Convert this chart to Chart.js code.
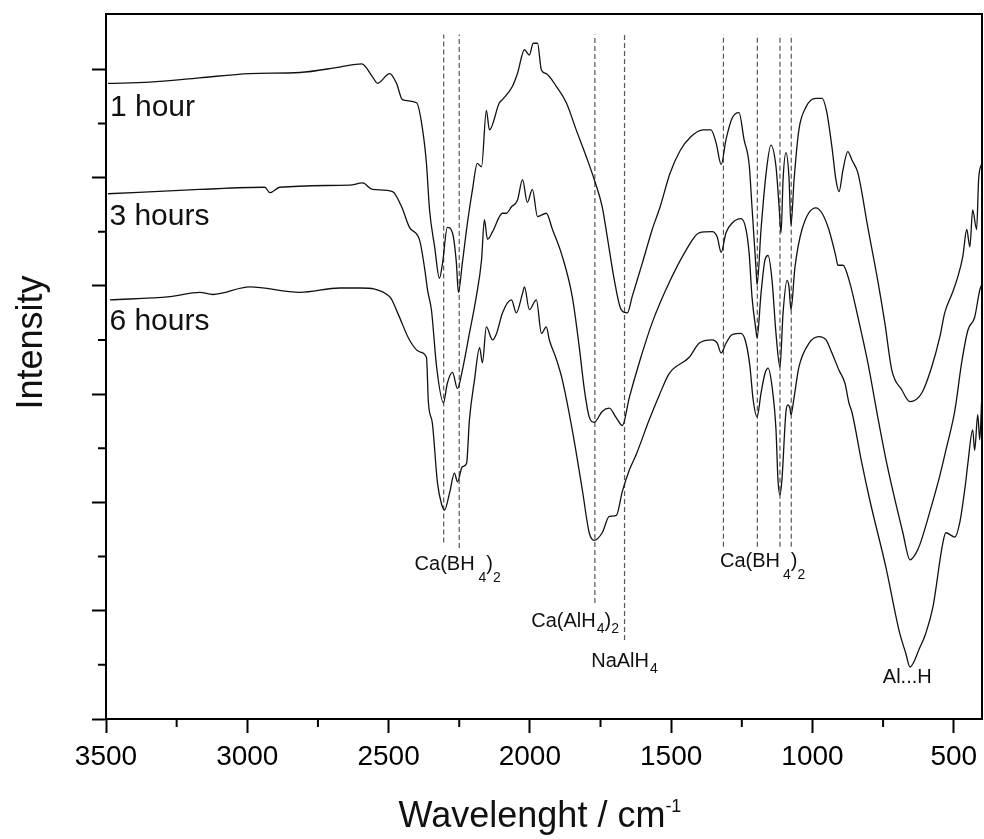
<!DOCTYPE html>
<html>
<head>
<meta charset="utf-8">
<script src="https://cdn.jsdelivr.net/npm/chart.js@4.4.1/dist/chart.umd.min.js"></script>
<style>
  html, body { margin: 0; padding: 0; background: #fff; }
</style>
</head>
<body>
<canvas id="chart" width="984" height="839"></canvas>
<script>
// IR spectra (wavenumber / cm-1, stacked intensity in a.u.)
const wn1 = [3493,3345,3168,2991,2814,2673,2595,2557,2539,2496,2472,2451,2401,2383,2366,2355,2337,2320,2309,2292,2274,2260,2253,2239,2221,2203,2186,2171,2154,2143,2108,2097,2062,2044,2019,2002,1988,1973,1959,1942,1906,1871,1836,1800,1772,1744,1726,1701,1677,1655,1638,1602,1567,1539,1504,1468,1433,1387,1359,1341,1323,1306,1284,1260,1242,1224,1214,1200,1196,1182,1164,1147,1129,1118,1111,1104,1094,1083,1076,1065,1048,1023,988,966,949,931,917,906,892,875,860,839,804,769,744,719,684,655,613,578,549,532,504,486,468,454,443,433,419,412,401];
const int1 = [5.87,5.88,5.92,5.96,5.97,6.02,6.05,5.93,5.87,5.96,5.87,5.72,5.69,5.50,5.13,4.70,4.36,4.07,4.21,4.54,4.49,4.21,3.94,4.21,4.58,4.89,5.13,5.10,5.62,5.44,5.69,5.72,5.84,5.96,6.18,6.13,6.24,6.24,5.99,5.96,5.84,5.69,5.44,5.19,4.98,4.73,4.45,4.05,3.78,3.75,3.90,4.21,4.52,4.73,5.04,5.25,5.37,5.44,5.44,5.32,5.12,5.35,5.55,5.60,5.35,5.12,4.73,4.17,4.01,4.52,5.04,5.30,5.10,4.73,4.49,4.98,5.23,5.00,4.56,4.98,5.44,5.65,5.73,5.73,5.60,5.28,4.98,4.87,5.07,5.24,5.16,5.04,4.54,4.05,3.66,3.22,3.04,2.93,3.01,3.25,3.53,3.75,3.94,4.08,4.27,4.52,4.36,4.70,4.52,4.98,5.13];

const wn3h = [3493,3168,2938,2920,2885,2638,2592,2557,2486,2454,2426,2390,2373,2362,2348,2330,2306,2292,2274,2256,2239,2214,2189,2171,2161,2150,2132,2097,2083,2065,2044,2026,2009,1991,1973,1942,1920,1885,1850,1825,1807,1790,1772,1744,1719,1694,1673,1648,1613,1567,1507,1447,1401,1355,1337,1323,1306,1284,1253,1235,1224,1214,1200,1196,1182,1168,1157,1143,1129,1115,1104,1090,1083,1076,1062,1037,988,966,942,917,910,892,868,839,804,769,737,680,655,634,620,585,549,528,496,472,450,426,408,401];
const int3h = [4.85,4.89,4.91,4.86,4.91,4.93,4.95,4.89,4.87,4.73,4.54,4.42,4.17,3.96,3.77,3.25,2.92,3.10,3.20,3.05,3.22,3.56,3.91,4.24,4.61,4.43,4.50,4.67,4.67,4.73,4.79,4.98,4.77,4.89,4.64,4.67,4.52,4.27,3.90,3.43,3.04,2.79,2.74,2.84,2.87,2.78,2.71,2.97,3.29,3.66,4.03,4.33,4.49,4.50,4.45,4.31,4.49,4.58,4.62,4.52,4.30,3.90,3.59,3.52,3.93,4.24,4.28,4.05,3.56,3.25,3.75,4.05,3.99,3.78,4.17,4.52,4.72,4.67,4.52,4.27,4.19,4.19,4.03,3.71,3.29,2.79,2.36,1.72,1.47,1.53,1.61,1.91,2.25,2.48,2.85,3.29,3.59,3.71,3.96,4.01];

const wn6h = [3486,3274,3168,3122,2991,2814,2673,2602,2496,2468,2426,2390,2366,2359,2345,2327,2313,2302,2284,2267,2256,2239,2224,2214,2196,2178,2168,2154,2132,2118,2097,2065,2048,2026,2019,2002,1977,1959,1942,1931,1906,1885,1850,1814,1790,1772,1744,1719,1694,1673,1648,1624,1578,1542,1507,1436,1401,1355,1337,1323,1306,1284,1253,1235,1221,1210,1196,1182,1168,1157,1143,1129,1122,1115,1108,1094,1087,1080,1076,1065,1048,1012,977,952,931,906,885,871,860,825,797,740,691,670,655,620,599,574,539,528,496,479,458,450,433,426,415,408,401];
const int6h = [3.87,3.90,3.94,3.92,3.99,3.94,3.98,3.98,3.90,3.75,3.50,3.39,3.34,2.92,2.73,2.18,1.99,1.93,2.09,2.27,2.19,2.33,2.36,2.76,3.13,3.43,3.29,3.62,3.50,3.56,3.75,3.87,3.75,3.93,3.99,3.78,3.87,3.56,3.62,3.50,3.32,3.13,2.67,2.11,1.72,1.65,1.72,1.87,1.88,2.10,2.30,2.44,2.76,2.99,3.19,3.34,3.47,3.50,3.47,3.38,3.47,3.55,3.56,3.47,3.25,2.95,2.79,3.01,3.19,3.24,3.07,2.67,2.21,2.07,2.21,2.83,2.90,2.87,2.81,2.97,3.25,3.47,3.53,3.50,3.38,3.22,3.10,2.92,2.83,2.36,2.02,1.40,0.79,0.61,0.48,0.66,0.79,1.03,1.62,1.72,1.68,1.81,2.18,2.36,2.67,2.48,2.81,2.58,2.95];

const seriesNames = ['1 hour', '3 hours', '6 hours'];
const seriesLabelWn = [3486, 3488, 3488];
const seriesLabelLevel = [5.57, 4.56, 3.59];

// dashed marker lines at assigned bands
const peakWn = [2305, 2250, 1770, 1665, 1315, 1195, 1115, 1075];
const peakBottom = [1.63, 1.58, 1.07, 0.73, 1.59, 1.59, 1.59, 1.59];
const peakTop = 6.32;

// band assignments: [text, subscript?] runs, anchored at wavenumber / level (baseline)
const noteWn = [2408, 1327, 1995, 1783, 751];
const noteLevel = [1.38, 1.40, 0.85, 0.48, 0.33];
const noteText = [
  [['Ca(BH'], ['4', 'sub', 4], [')'], ['2', 'sub']],
  [['Ca(BH'], ['4', 'sub', 3], [')'], ['2', 'sub']],
  [['Ca(AlH'], ['4', 'sub2', 1], [')'], ['2', 'sub2']],
  [['NaAlH'], ['4', 'sub2', 1]],
  [['Al...H']]
];

const xMajor = [500, 1000, 1500, 2000, 2500, 3000, 3500];
const xMinor = [750, 1250, 1750, 2250, 2750, 3250];
const yMajor = [0, 1, 2, 3, 4, 5, 6];
const yMinor = [0.5, 1.5, 2.5, 3.5, 4.5, 5.5];

const FONT = "'Liberation Sans', Arial, Helvetica, sans-serif";
const INK = '#111';

function toPoints(xs, ys) {
  return xs.map((v, i) => ({ x: v, y: ys[i] }));
}

const datasets = [
  { data: toPoints(wn1, int1) },
  { data: toPoints(wn3h, int3h) },
  { data: toPoints(wn6h, int6h) }
].map(d => Object.assign(d, {
  borderColor: INK, borderWidth: 1.3, pointRadius: 0,
  cubicInterpolationMode: 'monotone', fill: false
}));

peakWn.forEach((w, i) => {
  datasets.push({
    data: [{ x: w, y: peakBottom[i] }, { x: w, y: peakTop }],
    borderColor: '#555', borderWidth: 1.2, borderDash: [5, 3],
    pointRadius: 0, fill: false
  });
});

// draws a list of text runs left to right, handling sub/superscripts
function drawRuns(ctx, x, y, runs, base) {
  let cx = x;
  runs.forEach(r => {
    let size = base, dy = 0;
    if (r[1] === 'sub') { size = 14; dy = 12; }
    if (r[1] === 'sub2') { size = 14; dy = 6; }
    if (r[1] === 'sup') { size = 18; dy = -15; }
    cx += r[2] || 0;
    ctx.font = size + 'px ' + FONT;
    ctx.fillText(r[0], cx, y + dy);
    cx += ctx.measureText(r[0]).width;
  });
  return cx - x;
}

function runsWidth(ctx, runs, base) {
  let w = 0;
  runs.forEach(r => {
    const size = r[1] === 'sup' ? 18 : (r[1] ? 14 : base);
    ctx.font = size + 'px ' + FONT;
    w += (r[2] || 0) + ctx.measureText(r[0]).width;
  });
  return w;
}

const decor = {
  id: 'decor',
  afterDraw(chart) {
    const { ctx, chartArea: a, scales: { x, y } } = chart;
    ctx.save();

    // top and right frame
    ctx.strokeStyle = '#000';
    ctx.lineWidth = 2;
    ctx.beginPath();
    ctx.moveTo(a.left, a.top);
    ctx.lineTo(a.right, a.top);
    ctx.lineTo(a.right, a.bottom + 1);
    ctx.stroke();

    // minor ticks
    ctx.beginPath();
    xMinor.forEach(v => {
      const px = x.getPixelForValue(v);
      ctx.moveTo(px, a.bottom);
      ctx.lineTo(px, a.bottom + 8);
    });
    yMinor.forEach(v => {
      const py = y.getPixelForValue(v);
      ctx.moveTo(a.left, py);
      ctx.lineTo(a.left - 8, py);
    });
    ctx.stroke();

    ctx.fillStyle = INK;
    ctx.textBaseline = 'alphabetic';
    ctx.textAlign = 'left';

    // series names
    ctx.font = '30px ' + FONT;
    seriesNames.forEach((s, i) => {
      ctx.fillText(s, x.getPixelForValue(seriesLabelWn[i]), y.getPixelForValue(seriesLabelLevel[i]));
    });

    // band labels
    noteText.forEach((runs, i) => {
      drawRuns(ctx, x.getPixelForValue(noteWn[i]), y.getPixelForValue(noteLevel[i]), runs, 20);
    });

    // x axis title
    const xt = [['Wavelenght / cm'], ['-1', 'sup']];
    const w = runsWidth(ctx, xt, 36);
    drawRuns(ctx, (a.left + a.right) / 2 - w / 2 - 4, a.bottom + 108, xt, 36);

    // y axis title
    ctx.translate(42, (a.top + a.bottom) / 2 - 24);
    ctx.rotate(-Math.PI / 2);
    ctx.textAlign = 'center';
    ctx.font = '36px ' + FONT;
    ctx.fillText('Intensity', 0, 0);

    ctx.restore();
  }
};

new Chart(document.getElementById('chart'), {
  type: 'line',
  data: { datasets },
  plugins: [decor],
  options: {
    responsive: false,
    animation: false,
    layout: { padding: { top: 14, right: 2, left: 0, bottom: 0 } },
    plugins: {
      legend: { display: false },
      tooltip: { enabled: false }
    },
    scales: {
      x: {
        type: 'linear',
        reverse: true,
        min: 400,
        max: 3500,
        afterBuildTicks: s => { s.ticks = xMajor.map(v => ({ value: v })); },
        ticks: {
          autoSkip: false, maxRotation: 0,
          color: '#000', padding: 7, font: { family: FONT, size: 28 },
          callback: v => String(v)
        },
        grid: { drawOnChartArea: false, drawTicks: true, tickLength: 14, tickWidth: 2, tickColor: '#000' },
        border: { color: '#000', width: 2 },
        afterFit: s => { s.height = 120; s.paddingLeft = 0; s.paddingRight = 0; }
      },
      y: {
        type: 'linear',
        min: 0,
        max: 6.51,
        afterBuildTicks: s => { s.ticks = yMajor.map(v => ({ value: v })); },
        ticks: { display: false },
        grid: { drawOnChartArea: false, drawTicks: true, tickLength: 14, tickWidth: 2, tickColor: '#000' },
        border: { color: '#000', width: 2 },
        afterFit: s => { s.width = 106; }
      }
    }
  }
});
</script>
</body>
</html>
